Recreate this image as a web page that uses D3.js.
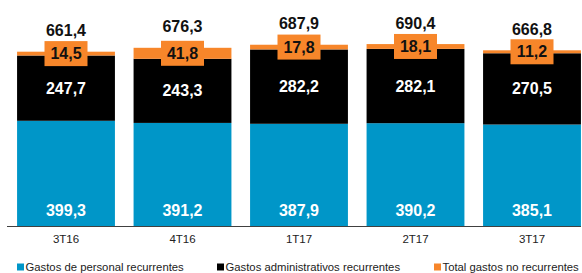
<!DOCTYPE html>
<html><head><meta charset="utf-8">
<script src="https://cdn.jsdelivr.net/npm/d3@7"></script>
<style>body{margin:0;background:#fff}svg{display:block}</style>
</head><body>
<script>
const categories = ["3T16","4T16","1T17","2T17","3T17"];
const personal = [399.3, 391.2, 387.9, 390.2, 385.1];
const administrativos = [247.7, 243.3, 282.2, 282.1, 270.5];
const noRecurrentes = [14.5, 41.8, 17.8, 18.1, 11.2];
const totals = [661.4, 676.3, 687.9, 690.4, 666.8];
const seriesNames = ["Gastos de personal recurrentes","Gastos administrativos recurrentes","Total gastos no recurrentes"];
const colors = ["#0096C8","#000000","#F7862A"];
const fmt = v => v.toFixed(1).replace(".", ",");

const W = 582, H = 273;
const svg = d3.select("body").append("svg").attr("width", W).attr("height", H);
const font = "'Liberation Sans', Arial, sans-serif";

const x = d3.scaleBand().domain(categories).range([7.75, 590.25]).paddingInner(0.16).paddingOuter(0.08);
const y = d3.scaleLinear().domain([0, 700]).range([226, 41.55]);

const data = categories.map((c, i) => ({c, vals: [personal[i], administrativos[i], noRecurrentes[i]], total: totals[i]}));
const stack = d3.stack().keys([0,1,2]).value((d, k) => d.vals[k]);
const layers = stack(data);

layers.forEach((layer, k) => {
  svg.append("g").selectAll("rect").data(layer).join("rect")
    .attr("x", d => x(d.data.c)).attr("width", x.bandwidth())
    .attr("y", d => y(d[1])).attr("height", d => y(d[0]) - y(d[1]))
    .attr("fill", colors[k]);
});

// axis line
svg.append("line").attr("x1", 7).attr("x2", 581).attr("y1", 226.5).attr("y2", 226.5)
  .attr("stroke", "#404040").attr("stroke-width", 1.2);

// category labels
const xAxis = d3.axisBottom(x).tickSize(0).tickPadding(0);
const ax = svg.append("g").attr("transform", "translate(0,235)").call(xAxis);
ax.select(".domain").remove();
ax.selectAll("text").attr("font-family", font).attr("font-size", 11.5).attr("fill", "#222").attr("dy", "0.71em");

const cx = d => x(d.data.c) + x.bandwidth() / 2;

// orange boxes (behind labels)
const ob = svg.append("g");
ob.selectAll("rect").data(layers[2]).join("rect")
  .attr("x", d => cx(d) - 21.5).attr("width", 43)
  .attr("y", d => (y(d[0]) + y(d[1])) / 2 - 12.5).attr("height", 25)
  .attr("fill", colors[2]);

const lbl = svg.append("g").attr("font-family", font).attr("font-weight", "bold").attr("font-size", 16).attr("text-anchor", "middle");

// personal labels near bottom
lbl.selectAll("t0").data(layers[0]).join("text")
  .attr("x", cx).attr("y", d => y(d[0]) - 16).attr("dy", "0.35em").attr("fill", "#fff")
  .text(d => fmt(d.data.vals[0]));
// admin labels centered
lbl.selectAll("t1").data(layers[1]).join("text")
  .attr("x", cx).attr("y", d => (y(d[0]) + y(d[1])) / 2).attr("dy", "0.35em").attr("fill", "#fff")
  .text(d => fmt(d.data.vals[1]));
lbl.selectAll("t2").data(layers[2]).join("text")
  .attr("x", cx).attr("y", d => (y(d[0]) + y(d[1])) / 2).attr("dy", "0.35em").attr("fill", "#111")
  .text(d => fmt(d.data.vals[2]));
// totals
lbl.selectAll("tt").data(layers[2]).join("text")
  .attr("x", cx).attr("y", d => y(d.data.total) - 21).attr("dy", "0.35em").attr("fill", "#111")
  .text(d => fmt(d.data.total));

// legend
const legX = [17, 217, 434];
const leg = svg.append("g").attr("font-family", font).attr("font-size", 11.3).attr("fill", "#222");
seriesNames.forEach((n, i) => {
  leg.append("rect").attr("x", legX[i]).attr("y", 263.5).attr("width", 7).attr("height", 7).attr("fill", colors[i]);
  leg.append("text").attr("x", legX[i] + 8.5).attr("y", 267).attr("dy", "0.35em").text(n);
});
</script>
</body></html>
